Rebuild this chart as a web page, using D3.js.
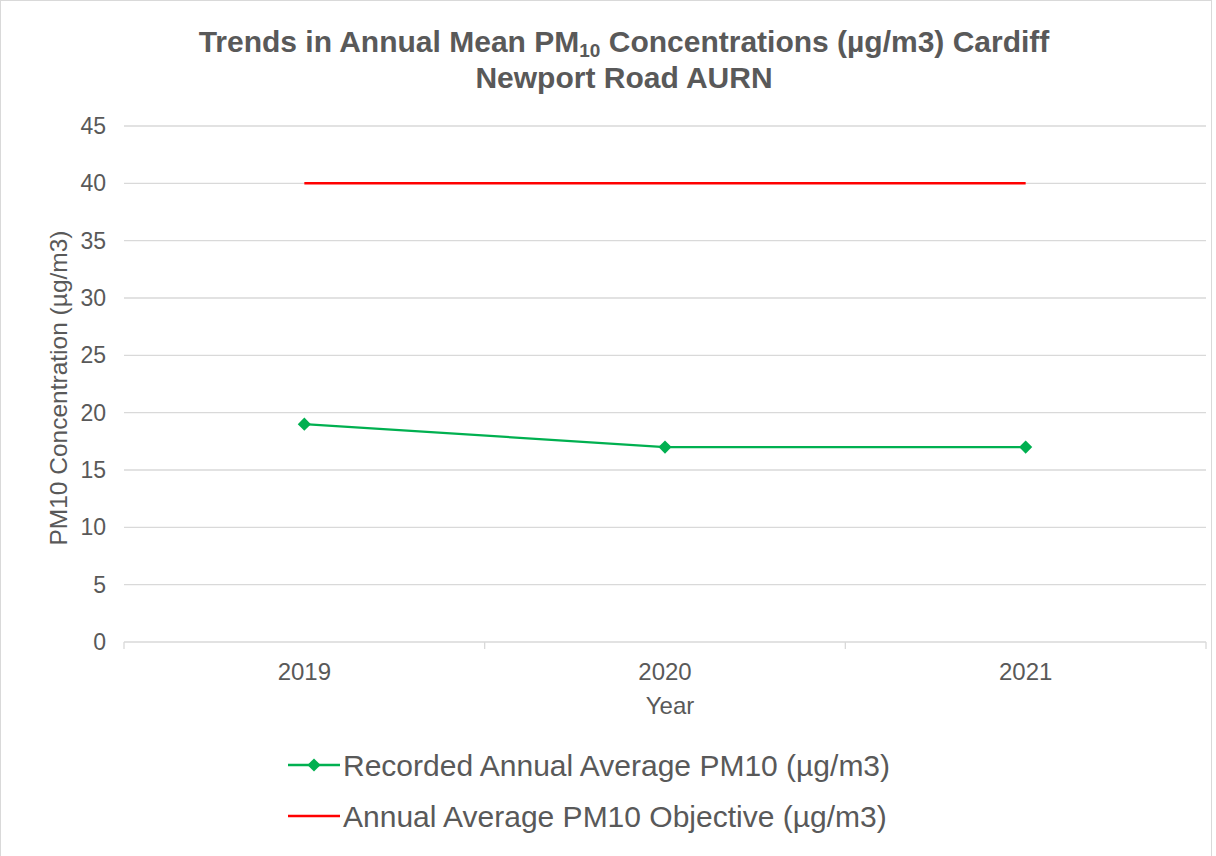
<!DOCTYPE html>
<html>
<head>
<meta charset="utf-8">
<script src="https://cdn.jsdelivr.net/npm/d3@7"></script>
<style>
  body { margin: 0; background: #fff; }
  text { font-family: Arial, "Liberation Sans", sans-serif; fill: #595959; }
</style>
</head>
<body>
<div id="chart"></div>
<script>
var years = ["2019", "2020", "2021"]
var recorded = [19, 17, 17]
var objective = [40, 40, 40]
var yTicks = [0, 5, 10, 15, 20, 25, 30, 35, 40, 45]

var W = 1216, H = 856
var margin = { top: 126, right: 10, bottom: 214, left: 124 }
var width = W - margin.left - margin.right
var height = H - margin.top - margin.bottom

var svg = d3.select("#chart").append("svg")
  .attr("width", W)
  .attr("height", H)

svg.append("rect")
  .attr("x", 0.5).attr("y", 0.5)
  .attr("width", W - 5).attr("height", H + 10)
  .attr("fill", "#fff")
  .attr("stroke", "#d9d9d9")

var g = svg.append("g")
  .attr("transform", "translate(" + margin.left + "," + margin.top + ")")

var x = d3.scaleBand()
  .domain(years)
  .range([0, width])

var y = d3.scaleLinear()
  .domain([0, 45])
  .range([height, 0])

// gridlines
g.selectAll(".grid")
  .data(yTicks)
  .enter().append("line")
  .attr("x1", 0)
  .attr("x2", width)
  .attr("y1", d => y(d))
  .attr("y2", d => y(d))
  .attr("stroke", "#d9d9d9")
  .attr("stroke-width", 1.3)

// y tick labels
g.selectAll(".ylab")
  .data(yTicks)
  .enter().append("text")
  .attr("x", -18)
  .attr("y", d => y(d) + 8)
  .attr("text-anchor", "end")
  .attr("font-size", 23)
  .text(d => d)

// x axis ticks between categories
var edges = years.map(d => x(d)).concat([width])
g.selectAll(".xtick")
  .data(edges)
  .enter().append("line")
  .attr("x1", d => d)
  .attr("x2", d => d)
  .attr("y1", height)
  .attr("y2", height + 7)
  .attr("stroke", "#d9d9d9")
  .attr("stroke-width", 1.3)

g.selectAll(".xlab")
  .data(years)
  .enter().append("text")
  .attr("x", d => x(d) + x.bandwidth() / 2)
  .attr("y", height + 38)
  .attr("text-anchor", "middle")
  .attr("font-size", 24)
  .text(d => d)

// axis titles
g.append("text")
  .attr("x", 670 - margin.left)
  .attr("y", height + 72)
  .attr("text-anchor", "middle")
  .attr("font-size", 24)
  .text("Year")

svg.append("text")
  .attr("transform", "translate(67," + 388 + ") rotate(-90)")
  .attr("text-anchor", "middle")
  .attr("font-size", 24.5)
  .text("PM10 Concentration (µg/m3)")

// title
var title = svg.append("text")
  .attr("x", 624)
  .attr("y", 52)
  .attr("text-anchor", "middle")
  .attr("font-weight", "bold")
  .attr("font-size", 30)
title.append("tspan").text("Trends in Annual Mean PM")
title.append("tspan").attr("font-size", 19).attr("dy", 5).text("10")
title.append("tspan").attr("dy", -5).text(" Concentrations (µg/m3) Cardiff")

svg.append("text")
  .attr("x", 624)
  .attr("y", 88)
  .attr("text-anchor", "middle")
  .attr("font-weight", "bold")
  .attr("font-size", 30)
  .text("Newport Road AURN")

var line = d3.line()
  .x((d, i) => x(years[i]) + x.bandwidth() / 2)
  .y(d => y(d))

g.append("path")
  .datum(objective)
  .attr("d", line)
  .attr("fill", "none")
  .attr("stroke", "#ff0000")
  .attr("stroke-width", 2.5)

g.append("path")
  .datum(recorded)
  .attr("d", line)
  .attr("fill", "none")
  .attr("stroke", "#00b050")
  .attr("stroke-width", 2.2)

var diamond = d3.symbol().type(d3.symbolDiamond2).size(110)

g.selectAll(".pt")
  .data(recorded)
  .enter().append("path")
  .attr("d", diamond)
  .attr("transform", (d, i) => "translate(" + (x(years[i]) + x.bandwidth() / 2) + "," + y(d) + ")")
  .attr("fill", "#00b050")

// legend
var legendItems = [
  { name: "Recorded Annual Average PM10 (µg/m3)", color: "#00b050", marker: true },
  { name: "Annual Average PM10 Objective (µg/m3)", color: "#ff0000", marker: false }
]

var legend = svg.selectAll(".legend")
  .data(legendItems)
  .enter().append("g")
  .attr("transform", (d, i) => "translate(288," + (765 + i * 51) + ")")

legend.append("line")
  .attr("x1", 0).attr("x2", 52)
  .attr("y1", 0).attr("y2", 0)
  .attr("stroke", d => d.color)
  .attr("stroke-width", 2.5)

legend.filter(d => d.marker).append("path")
  .attr("d", diamond)
  .attr("transform", "translate(26,0)")
  .attr("fill", d => d.color)

legend.append("text")
  .attr("x", 55)
  .attr("y", 11)
  .attr("font-size", 30)
  .text(d => d.name)
</script>
</body>
</html>
